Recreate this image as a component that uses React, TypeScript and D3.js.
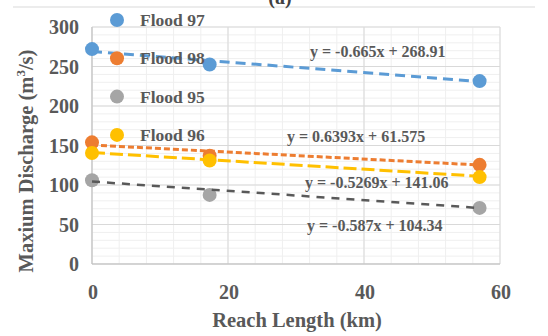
import { useEffect, useRef } from 'react'
import * as d3 from 'd3'

// reach length (km) for each gauge
const reach = [0, 17.3, 57]

const seriesNames = ['Flood 97', 'Flood 98', 'Flood 95', 'Flood 96']
const flood97 = [272, 252.5, 231.5]
const flood98 = [154, 137, 125.5]
const flood95 = [106, 87.5, 71]
const flood96 = [140.5, 131, 110]

// trendline slope / intercept
const trendSlope = [-0.665, -0.444, -0.587, -0.5269]
const trendIntercept = [268.91, 150.6, 104.34, 141.06]
const trendLabels = ['y = -0.665x + 268.91', 'y = 0.6393x + 61.575', 'y = -0.587x + 104.34', 'y = -0.5269x + 141.06']

const xTicks = [0, 20, 40, 60]
const yTicks = [0, 50, 100, 150, 200, 250, 300]

export default function App() {
  const svgRef = useRef<SVGSVGElement | null>(null)

  useEffect(() => {
    if (!svgRef.current) return
    const svg = d3.select(svgRef.current)
    svg.selectAll('*').remove()

    const x = d3.scaleLinear().domain([0, 60]).range([92, 500])
    const y = d3.scaleLinear().domain([0, 300]).range([264, 27])
    const font = '"Liberation Serif", "Times New Roman", serif'
    const textCol = '#595959'

    // outer frame top edge and title (cut off at the top, as in the source)
    svg.append('line').attr('x1', 13).attr('x2', 535).attr('y1', 7).attr('y2', 7)
      .attr('stroke', '#d9d9d9').attr('stroke-width', 1)
    svg.append('text').attr('x', 280).attr('y', 4).attr('text-anchor', 'middle')
      .attr('font-family', font).attr('font-weight', 'bold').attr('font-size', '20px')
      .attr('fill', '#404040').text('(a)')

    // minor grid
    const g = svg.append('g')
    g.selectAll('.mx').data(d3.range(0, 61, 4)).join('line')
      .attr('x1', d => x(d)).attr('x2', d => x(d)).attr('y1', y(0)).attr('y2', y(300))
      .attr('stroke', '#efefef').attr('stroke-width', 1)
    g.selectAll('.my').data(d3.range(0, 301, 10)).join('line')
      .attr('x1', x(0)).attr('x2', x(60)).attr('y1', d => y(d)).attr('y2', d => y(d))
      .attr('stroke', '#efefef').attr('stroke-width', 1)
    // major grid
    g.append('g').selectAll('line').data(xTicks).join('line')
      .attr('x1', d => x(d)).attr('x2', d => x(d)).attr('y1', y(0)).attr('y2', y(300))
      .attr('stroke', '#d9d9d9').attr('stroke-width', 1)
    g.append('g').selectAll('line').data(yTicks).join('line')
      .attr('x1', x(0)).attr('x2', x(60)).attr('y1', d => y(d)).attr('y2', d => y(d))
      .attr('stroke', '#d9d9d9').attr('stroke-width', 1)
    g.append('line').attr('x1', x(0)).attr('x2', x(0)).attr('y1', y(0)).attr('y2', y(300))
      .attr('stroke', '#bfbfbf')
    g.append('line').attr('x1', x(0)).attr('x2', x(60)).attr('y1', y(0)).attr('y2', y(0))
      .attr('stroke', '#bfbfbf')

    // tick labels
    svg.append('g').selectAll('text').data(yTicks).join('text')
      .attr('x', 79).attr('y', d => y(d) + 7).attr('text-anchor', 'end')
      .attr('font-family', font).attr('font-weight', 'bold').attr('font-size', '20px')
      .attr('fill', textCol).text(d => d)
    svg.append('g').selectAll('text').data(xTicks).join('text')
      .attr('x', d => x(d) + 1).attr('y', 299).attr('text-anchor', 'middle')
      .attr('font-family', font).attr('font-weight', 'bold').attr('font-size', '20px')
      .attr('fill', textCol).text(d => d)

    // axis titles
    svg.append('text').attr('x', 297).attr('y', 327).attr('text-anchor', 'middle')
      .attr('font-family', font).attr('font-weight', 'bold').attr('font-size', '20.5px')
      .attr('fill', textCol).text('Reach Length (km)')
    const yt = svg.append('text').attr('transform', 'translate(33,161) rotate(-90)')
      .attr('text-anchor', 'middle')
      .attr('font-family', font).attr('font-weight', 'bold').attr('font-size', '20.5px')
      .attr('fill', textCol)
    yt.append('tspan').text('Maxium Discharge (m')
    yt.append('tspan').attr('font-size', '13px').attr('dy', -8).text('3')
    yt.append('tspan').attr('dy', 8).text('/s)')

    const values = [flood97, flood98, flood95, flood96]
    const markerCol = ['#5b9bd5', '#ed7d31', '#a5a5a5', '#ffc000']
    const trendCol = ['#5b9bd5', '#ed7d31', '#595959', '#ffc000']
    const dash = ['10,6', '6,3', '8,7', '13,5']
    const width = [3, 3, 2.5, 3]

    // draw in Excel's series order: 97, 98, 95, 96
    values.forEach((vals, i) => {
      svg.append('g').selectAll('circle').data(vals).join('circle')
        .attr('cx', (_, j) => x(reach[j])).attr('cy', d => y(d)).attr('r', 7)
        .attr('fill', markerCol[i])
      const x0 = reach[0], x1 = reach[reach.length - 1]
      svg.append('line')
        .attr('x1', x(x0)).attr('y1', y(trendIntercept[i] + trendSlope[i] * x0))
        .attr('x2', x(x1)).attr('y2', y(trendIntercept[i] + trendSlope[i] * x1))
        .attr('stroke', trendCol[i]).attr('stroke-width', width[i])
        .attr('stroke-dasharray', dash[i])
    })

    // trendline equations
    const eqPos = [[310, 57], [287, 142], [307, 231], [305, 188]]
    trendLabels.forEach((t, i) => {
      svg.append('text').attr('x', eqPos[i][0]).attr('y', eqPos[i][1])
        .attr('font-family', font).attr('font-weight', 'bold').attr('font-size', '16px')
        .attr('fill', textCol).text(t)
    })

    // legend
    const leg = svg.append('g')
    seriesNames.forEach((name, i) => {
      const ly = 20 + i * 38.3
      leg.append('circle').attr('cx', 117).attr('cy', ly).attr('r', 7).attr('fill', markerCol[i])
      leg.append('text').attr('x', 140).attr('y', ly + 6)
        .attr('font-family', font).attr('font-weight', 'bold').attr('font-size', '17.5px')
        .attr('fill', textCol).text(name)
    })
  }, [])

  return (
    <svg ref={svgRef} width={548} height={336}
      style={{ position: 'absolute', left: 0, top: 0, background: '#fff' }} />
  )
}
